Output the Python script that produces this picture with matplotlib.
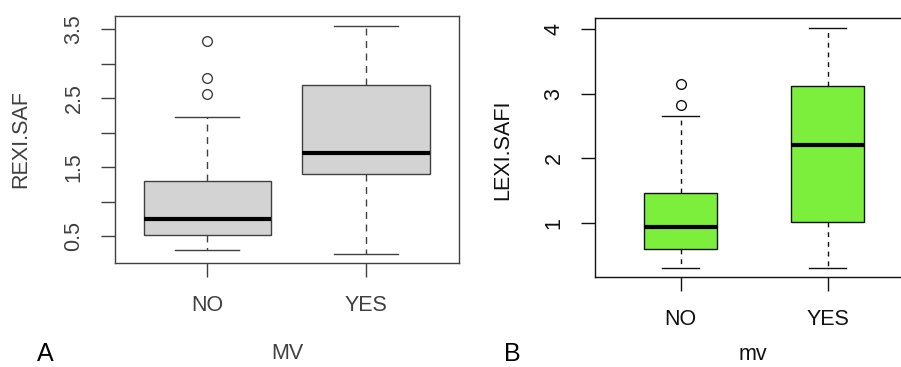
import matplotlib
matplotlib.use('Agg')
import matplotlib.pyplot as plt

# categories
groups = ['NO', 'YES']

# panel A: REXI.SAF by MV
rexi_q1 = [0.52, 1.40]
rexi_med = [0.75, 1.71]
rexi_q3 = [1.30, 2.69]
rexi_lo = [0.30, 0.24]
rexi_hi = [2.22, 3.54]
rexi_out = [[3.33, 2.79, 2.56], []]

# panel B: LEXI.SAFI by mv
lexi_q1 = [0.59, 1.01]
lexi_med = [0.94, 2.20]
lexi_q3 = [1.465, 3.12]
lexi_lo = [0.30, 0.30]
lexi_hi = [2.65, 4.01]
lexi_out = [[3.15, 2.82], []]

plt.rcParams['font.family'] = ['Liberation Sans', 'DejaVu Sans']


def make_stats(q1, med, q3, lo, hi, out):
    stats = []
    for i in range(len(q1)):
        stats.append({'q1': q1[i], 'med': med[i], 'q3': q3[i],
                      'whislo': lo[i], 'whishi': hi[i], 'fliers': out[i]})
    return stats


def draw_panel(ax, stats, width, fill, ink, dash, ylab, xlab, yticks, yticklabels):
    ax.bxp(stats, positions=[1, 2], widths=width, capwidths=width / 2,
           patch_artist=True, manage_ticks=False,
           boxprops=dict(facecolor=fill, edgecolor=ink, linewidth=1),
           whiskerprops=dict(color=ink, linewidth=1, linestyle=dash),
           capprops=dict(color=ink, linewidth=1),
           medianprops=dict(color='black', linewidth=3, solid_capstyle='butt'),
           flierprops=dict(marker='o', markerfacecolor='none', markeredgecolor=ink,
                           markersize=7, markeredgewidth=1))
    ax.set_xticks([1, 2])
    ax.set_xticklabels(groups)
    ax.set_yticks(yticks)
    ax.set_yticklabels(yticklabels, rotation=90, va='center')
    ax.tick_params(axis='both', direction='out', length=10, width=1, color=ink,
                   labelsize=15.5, labelcolor=ink)
    ax.tick_params(axis='x', pad=13)
    ax.tick_params(axis='y', pad=12)
    for sp in ax.spines.values():
        sp.set_color(ink)
        sp.set_linewidth(1)
    ax.set_ylabel(ylab, fontsize=15.5, color=ink, va='center')
    ax.set_xlabel(xlab, fontsize=15.5, color=ink, va='center')


fig = plt.figure(figsize=(9.01, 3.67), dpi=100)

# panel A
axA = fig.add_axes([0.1276, 0.2834, 0.3818, 0.673])
draw_panel(axA, make_stats(rexi_q1, rexi_med, rexi_q3, rexi_lo, rexi_hi, rexi_out),
           0.8, '#d3d3d3', '#404040', (0, (5, 4)), 'REXI.SAF', 'MV',
           [0.5, 1.0, 1.5, 2.0, 2.5, 3.0, 3.5], ['0.5', '', '1.5', '', '2.5', '', '3.5'])
axA.set_xlim(0.42, 2.585)
axA.set_ylim(0.109, 3.69)
axA.yaxis.set_label_coords(-0.273, 0.5)
axA.xaxis.set_label_coords(0.5, -0.365)

# panel B (right edge runs off the figure, like the reference crop)
axB = fig.add_axes([0.6604, 0.2452, 0.3534, 0.7057])
draw_panel(axB, make_stats(lexi_q1, lexi_med, lexi_q3, lexi_lo, lexi_hi, lexi_out),
           0.5, '#7cee3c', '#111111', (0, (3.5, 3.5)), 'LEXI.SAFI', 'mv',
           [1, 2, 3, 4], ['1', '2', '3', '4'])
axB.set_xlim(0.417, 2.583)
axB.set_ylim(0.159, 4.17)
axB.yaxis.set_label_coords(-0.289, 0.49)
axB.xaxis.set_label_coords(0.496, -0.30)

fig.text(0.05, 0.035, 'A', fontsize=18, ha='center', va='center')
fig.text(0.569, 0.035, 'B', fontsize=18, ha='center', va='center')

plt.savefig('out.png', dpi=100)
